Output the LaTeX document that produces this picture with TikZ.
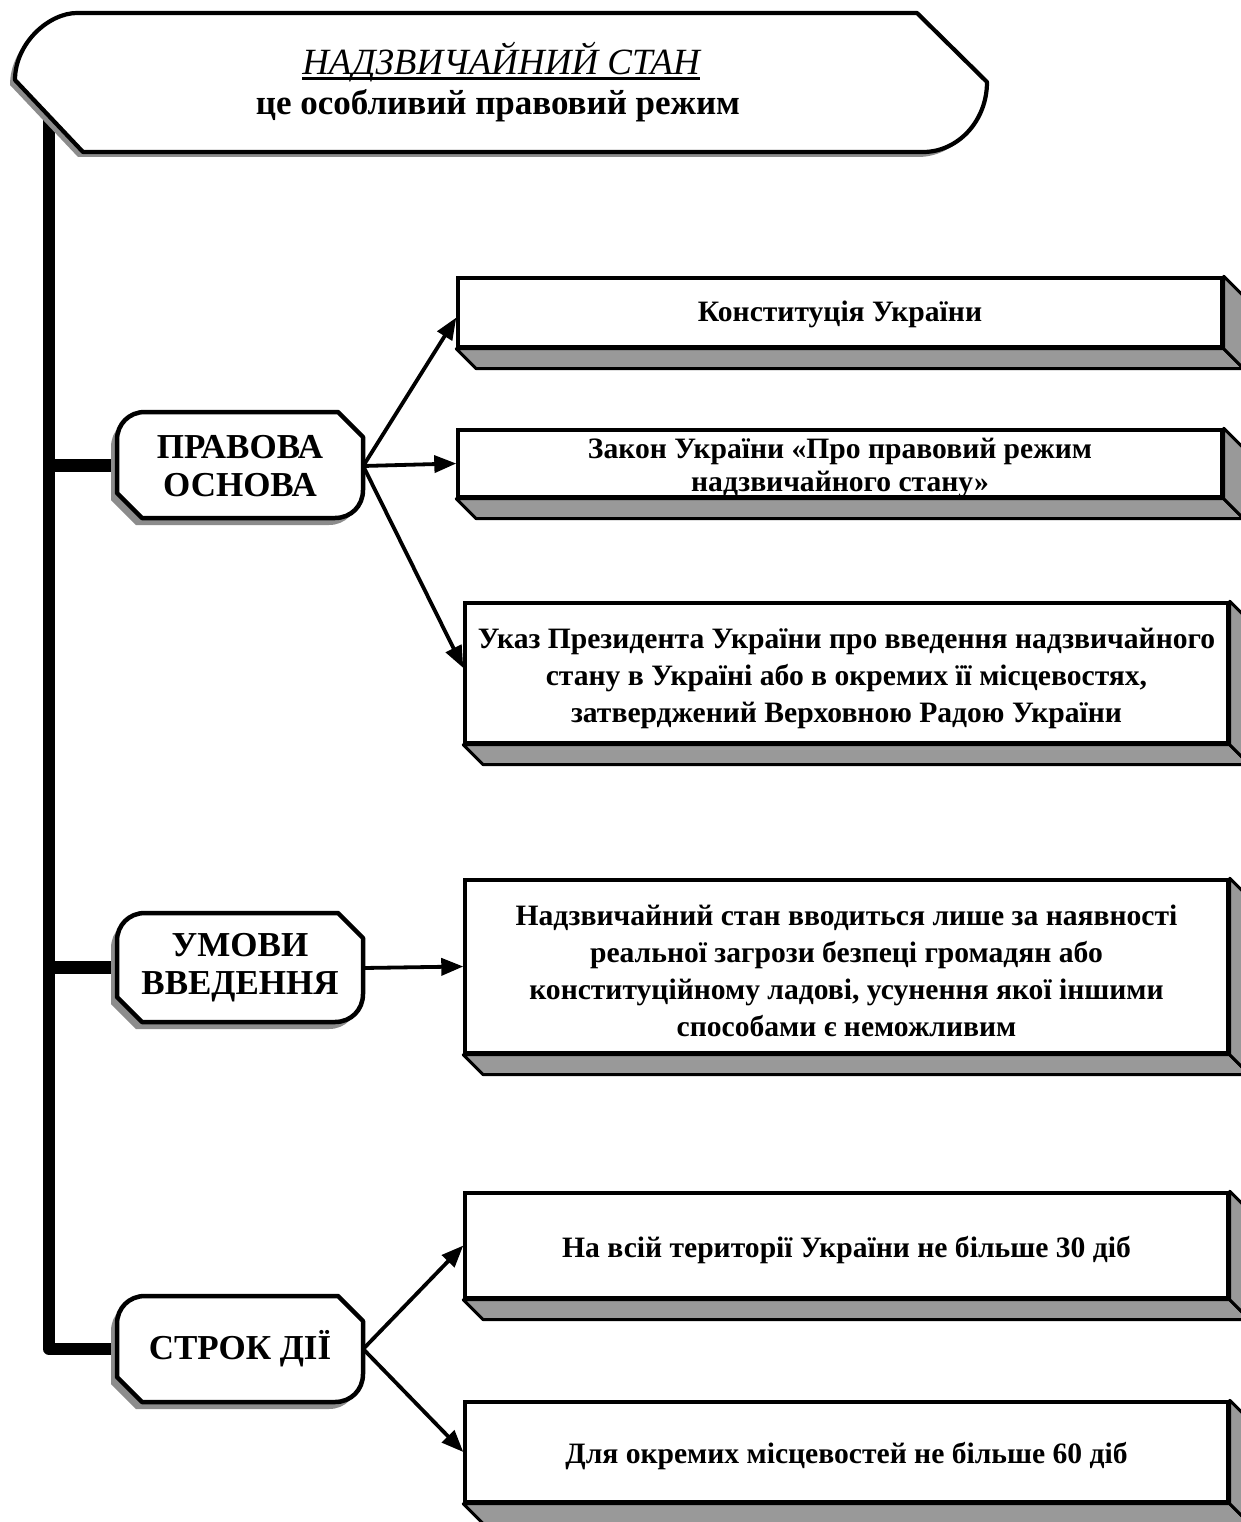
\documentclass[tikz,border=0pt]{standalone}
\usepackage{fontspec}
\setmainfont{Liberation Serif}
\usetikzlibrary{arrows.meta}
\definecolor{shadowgray}{gray}{0.55}
\definecolor{bevelgray}{gray}{0.6}
\tikzset{
  frontbox/.style={draw=black,fill=white,line width=3.4pt,inner sep=0pt},
  boxtext/.style={inner sep=0pt,align=center,font=\bfseries\fontsize{29.6}{37}\selectfont},
  bevelface/.style={fill=bevelgray,draw=black,line width=3pt,line join=round},
  labeltext/.style={inner sep=0pt,align=center,font=\bfseries\fontsize{35}{38}\selectfont},
  labelshape/.style={draw=black,fill=white,line width=4.5pt,line join=round},
  labelshadow/.style={fill=shadowgray},
  arr/.style={line width=3.8pt,-{Triangle[length=22pt,width=17pt]}},
  trunkline/.style={line width=12pt,line join=round,line cap=round},
  branchline/.style={line width=13pt}
}
\newcommand\bevelof[1]{%
  \path[bevelface] (#1.south west) -- ([shift={(20,20)}]#1.south west) -- ([shift={(20,20)}]#1.south east) -- (#1.south east) -- cycle;
  \path[bevelface] (#1.north east) -- ([shift={(20,20)}]#1.north east) -- ([shift={(20,20)}]#1.south east) -- (#1.south east) -- cycle;
}
\newcommand\labpath[4]{% x1 top x2 bottom
  (#1,#2+28) .. controls (#1,#2+12) and (#1+12,#2) .. (#1+28,#2) -- (#3-25,#2) -- (#3,#2+25)
  -- (#3,#4-28) .. controls (#3,#4-12) and (#3-12,#4) .. (#3-28,#4) -- (#1+25,#4) -- (#1,#4-25) -- cycle}
\newcommand\labbox[4]{%
  \fill[labelshadow] [shift={(-6,7)}] \labpath{#1}{#2}{#3}{#4};
  \path[labelshape] \labpath{#1}{#2}{#3}{#4};
}
\newcommand\toppath{(77,13) -- (917,13) -- (987,82) .. controls (987,121) and (958,152) .. (923,152)
  -- (83,152) -- (15,80) .. controls (15,43) and (49,13) .. (77,13) -- cycle}
\begin{document}
\begin{tikzpicture}[x=1pt,y=-1pt]
\clip (0,0) rectangle (1241,1522);
\fill[white] (0,0) rectangle (1241,1522);
% trunk
\coordinate (tr0) at (49,118);
\coordinate (tr1) at (49,1349);
\coordinate (pv) at (240,466);
\coordinate (um) at (240,968);
\coordinate (sk) at (240,1349);
\draw[trunkline] (tr0) -- (tr1) -- (117,1349);
\draw[branchline] (49,465) -- (117,465);
\draw[branchline] (49,967.5) -- (117,967.5);
% top shape
\fill[shadowgray] [shift={(-5,5)}] \toppath;
\path[draw=black,fill=white,line width=4.2pt,line join=round] \toppath;
\node[inner sep=0pt,font=\itshape\fontsize{37}{40}\selectfont] (title) at (501,62) {НАДЗВИЧАЙНИЙ СТАН};
\draw[line width=3pt] ([yshift=-4]title.base west) -- ([yshift=-4]title.base east);
\node[inner sep=0pt,font=\bfseries\fontsize{35}{38}\selectfont] (subtitle) at (498,106) {це особливий правовий режим};
% label boxes
\labbox{117}{412}{363}{518}
\labbox{117}{913}{363}{1022}
\labbox{117}{1296}{363}{1402}
\node[labeltext,minimum width=246pt,minimum height=106pt] (pravova) at (pv) {ПРАВОВА\\ОСНОВА};
\node[labeltext,minimum width=246pt,minimum height=109pt] (umovy) at (um) {УМОВИ\\ВВЕДЕННЯ};
\node[labeltext,minimum width=246pt,minimum height=106pt] (strok) at (sk) {СТРОК ДІЇ};
% right boxes
\node[frontbox,minimum width=764pt,minimum height=69pt] (k1) at (840,312.5) {};
\node[frontbox,minimum width=764pt,minimum height=67pt] (k2) at (840,463.5) {};
\node[frontbox,minimum width=763pt,minimum height=140pt] (k3) at (846.5,673) {};
\node[frontbox,minimum width=763pt,minimum height=173pt] (k4) at (846.5,966.5) {};
\node[frontbox,minimum width=763pt,minimum height=105pt] (k5) at (846.5,1245.5) {};
\node[frontbox,minimum width=763pt,minimum height=100pt] (k6) at (846.5,1452) {};
\bevelof{k1}\bevelof{k2}\bevelof{k3}\bevelof{k4}\bevelof{k5}\bevelof{k6}
\node[boxtext] (t1) at ([yshift=-2]k1.center) {Конституція України};
\node[boxtext,font=\bfseries\fontsize{29.6}{33}\selectfont] (t2) at ([yshift=-5]k2.center) {Закон України «Про правовий режим\\надзвичайного стану»};
\node[boxtext] (t3) at ([yshift=-5]k3.center) {Указ Президента України про введення надзвичайного\\стану в Україні або в окремих її місцевостях,\\затверджений Верховною Радою України};
\node[boxtext] (t4) at ([yshift=-4]k4.center) {Надзвичайний стан вводиться лише за наявності\\реальної загрози безпеці громадян або\\конституційному ладові, усунення якої іншими\\способами є неможливим};
\node[boxtext] (t5) at ([yshift=-5]k5.center) {На всій території України не більше 30 діб};
\node[boxtext] (t6) at ([yshift=-4]k6.center) {Для окремих місцевостей не більше 60 діб};
% arrows
\draw[arr] (pravova.east) -- ([yshift=-5]k1.west);
\draw[arr] (pravova.east) -- (k2.west);
\draw[arr] (pravova.east) -- ([yshift=5]k3.west);
\draw[arr] (umovy.east) -- (k4.west);
\draw[arr] (strok.east) -- (k5.west);
\draw[arr] (strok.east) -- (k6.west);
\end{tikzpicture}
\end{document}
